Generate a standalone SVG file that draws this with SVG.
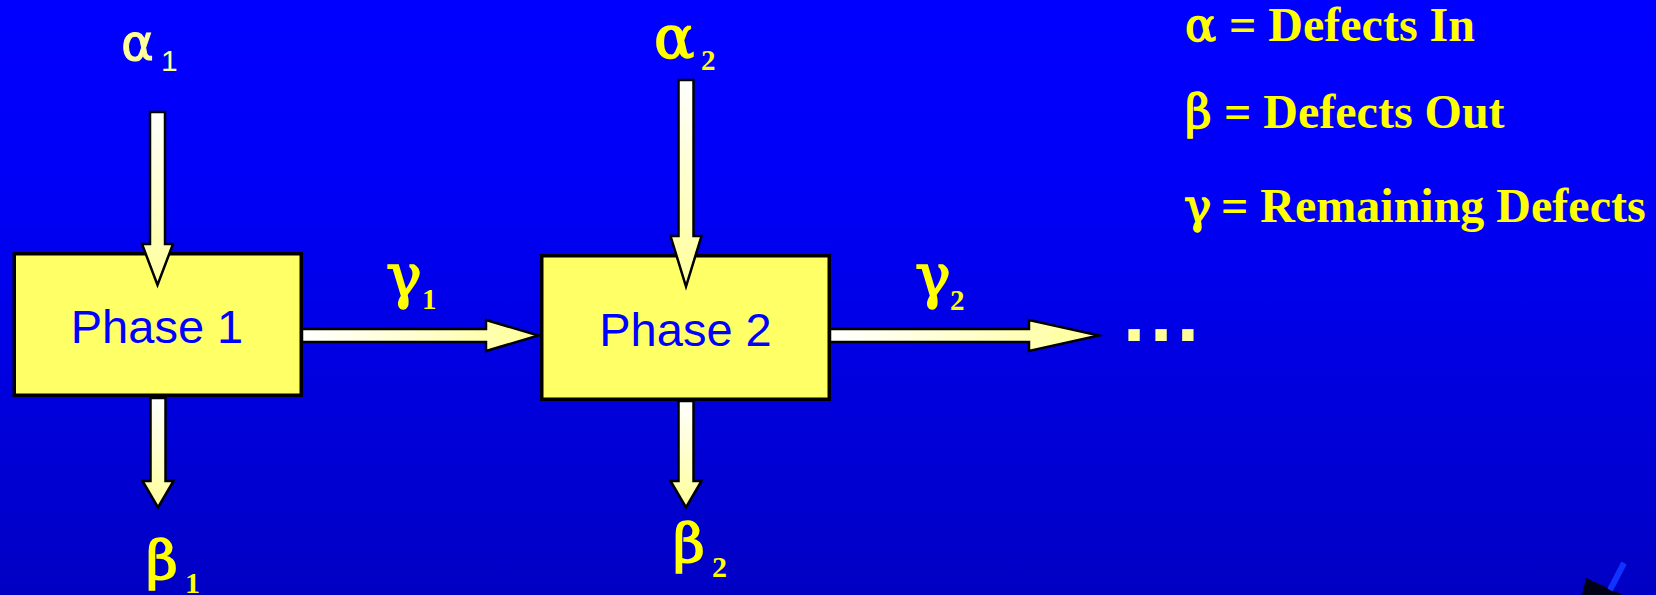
<svg xmlns="http://www.w3.org/2000/svg" width="1656" height="595" viewBox="0 0 1656 595">
<defs>
<linearGradient id="bg" x1="0" y1="0" x2="0" y2="1">
<stop offset="0" stop-color="#0000FF"/>
<stop offset="0.3" stop-color="#0000F8"/>
<stop offset="1" stop-color="#0000C4"/>
</linearGradient>
<linearGradient id="gv" x1="0" y1="0" x2="0" y2="1">
<stop offset="0" stop-color="#FFFFFF"/>
<stop offset="1" stop-color="#FFFF99"/>
</linearGradient>
<linearGradient id="gh" x1="0" y1="0" x2="1" y2="0">
<stop offset="0" stop-color="#FFFFFF"/>
<stop offset="1" stop-color="#FFFF99"/>
</linearGradient>
<style>
.box{fill:#FFFF66;stroke:#000;stroke-width:3.5}
.ph{font-family:"Liberation Sans",Arial,sans-serif;font-size:47px;fill:#0000FF;text-anchor:middle}
.av{fill:url(#gv);stroke:#000;stroke-width:2.5;stroke-linejoin:miter;stroke-miterlimit:10}
.ah{fill:url(#gh);stroke:#000;stroke-width:2.5;stroke-linejoin:miter;stroke-miterlimit:10}
.gk{font-family:"DejaVu Serif","Liberation Serif",serif;fill:#FFFF00;stroke:#FFFF00;stroke-width:1.6}
.sb{font-family:"Liberation Serif","Times New Roman",serif;font-weight:bold;fill:#FFFF00}
.lg{font-family:"Liberation Serif","Times New Roman",serif;font-weight:bold;font-size:48px;fill:#FFFF00}
.lgk{font-family:"DejaVu Serif","Liberation Serif",serif;font-size:46px;fill:#FFFF00;stroke:#FFFF00;stroke-width:1.4}
</style>
</defs>
<rect width="1656" height="595" fill="url(#bg)"/>

<g id="phase1">
<rect class="box" x="14.25" y="253.75" width="287" height="141.5"/>
<text class="ph" x="157" y="343">Phase 1</text>
</g>
<g id="phase2">
<rect class="box" x="541.75" y="255.75" width="287.5" height="143.5"/>
<text class="ph" x="685.5" y="346">Phase 2</text>
</g>

<g id="connectors">
<polygon class="av" points="150,112 165,112 165,244 173,244 157.5,285 142,244 150,244"/>
<polygon class="av" points="678.5,80 693.5,80 693.5,236 701.5,236 686,286.5 670.5,236 678.5,236"/>
<polygon class="av" points="150.5,398 165.5,398 165.5,481 173.5,481 158,507.5 142.5,481 150.5,481"/>
<polygon class="av" points="678.5,401 693.5,401 693.5,481 701.5,481 686,507.5 670.5,481 678.5,481"/>
<polygon class="ah" points="302,329 486,329 486,320 538.5,335.5 486,351 486,342 302,342"/>
<polygon class="ah" points="830,329 1029,329 1029,320 1099,335.5 1029,351 1029,342 830,342"/>
</g>

<g id="labels">
<text x="121" y="60" font-family="'DejaVu Sans','Liberation Sans',sans-serif" font-size="50" fill="#FFFF99" stroke="#FFFF99" stroke-width="1">α</text>
<text x="161" y="71" font-family="'Liberation Sans',Arial,sans-serif" font-size="30" fill="#FFFF99">1</text>
<text class="gk" x="654" y="58" font-size="60">α</text>
<text class="sb" x="701" y="70" font-size="29">2</text>
<text class="gk" x="386" y="297" font-size="60">γ</text>
<text class="sb" x="422" y="309" font-size="29">1</text>
<text class="gk" x="915" y="297" font-size="60">γ</text>
<text class="sb" x="950" y="310" font-size="29">2</text>
<text class="gk" x="146" y="579" font-size="55">β</text>
<text class="sb" x="185" y="593" font-size="30">1</text>
<text class="gk" x="673" y="562" font-size="55">β</text>
<text class="sb" x="712" y="577" font-size="30">2</text>
<text x="1123" y="341" font-family="'Liberation Sans',Arial,sans-serif" font-weight="bold" font-size="80" letter-spacing="4.7" fill="#FFFF99">...</text>
</g>

<g id="legend">
<text class="lgk" x="1185" y="41">α</text>
<text class="lg" x="1229" y="41">= Defects In</text>
<text class="lgk" x="1185" y="128">β</text>
<text class="lg" x="1224" y="128">= Defects Out</text>
<text class="lgk" x="1184" y="222">γ</text>
<text class="lg" x="1221" y="222">= Remaining Defects</text>
</g>

<g id="corner-mark">
<polygon points="1586,578 1582,595 1623,595" fill="#000018"/>
<line x1="1624" y1="563" x2="1610" y2="590" stroke="#1133FF" stroke-width="6"/>
</g>
</svg>
